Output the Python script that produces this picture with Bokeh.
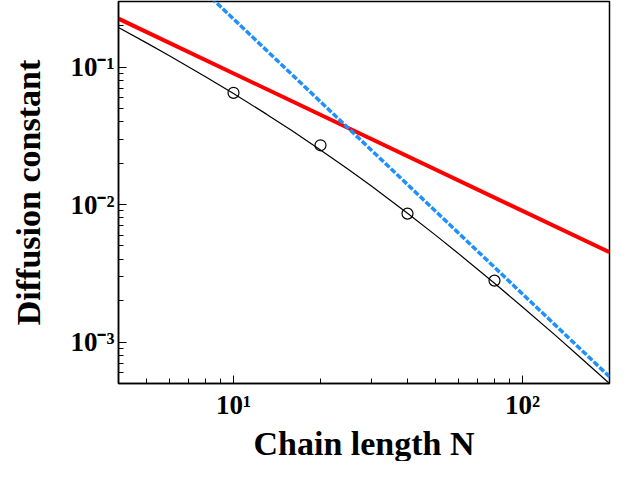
from bokeh.plotting import figure
from bokeh.models import FixedTicker, CustomJSTickFormatter, Title
from bokeh.embed import file_html
from bokeh.resources import INLINE

# Rouse-like line (red), reptation-like line (blue), crossover curve (black), data points
red_n = [4, 200]
red_d = [0.225, 0.0045]
blue_n = [4, 200]
blue_d = [1.40, 5.6e-4]
curve_n = [4, 5, 6, 8, 10, 13, 16, 20, 25, 30, 40, 50, 60, 80, 100, 130, 160, 200]
curve_d = [0.194, 0.150, 0.121, 0.0852, 0.0643, 0.0455, 0.0343, 0.0250, 0.0180,
           0.01364, 0.00866, 0.0060, 0.00441, 0.00268, 0.0018, 0.00112, 0.00076, 0.0005]
pts_n = [10, 20, 40, 80]
pts_d = [0.065, 0.027, 0.0086, 0.0028]

# ticks
x_major = [10, 100]
x_minor = [4, 5, 6, 7, 8, 9, 20, 30, 40, 50, 60, 70, 80, 90, 200]
y_major = [0.001, 0.01, 0.1]
y_minor = [0.0005, 0.0006, 0.0007, 0.0008, 0.0009,
           0.002, 0.003, 0.004, 0.005, 0.006, 0.007, 0.008, 0.009,
           0.02, 0.03, 0.04, 0.05, 0.06, 0.07, 0.08, 0.09, 0.2, 0.3]

X_TITLE = "Chain length N"
Y_TITLE = "Diffusion constant"
FONT = "Liberation Serif"

p = figure(width=617, height=461, x_axis_type="log", y_axis_type="log",
           x_range=(4, 200), y_range=(5e-4, 0.3),
           output_backend="svg", toolbar_location=None,
           min_border_left=118, min_border_right=8,
           min_border_top=1, min_border_bottom=0)

p.line(red_n, red_d, line_color="#FF0000", line_width=4)
p.line(blue_n, blue_d, line_color="#1E90FF", line_width=3.5, line_dash="6 2")
p.line(curve_n, curve_d, line_color="black", line_width=1.2)
p.scatter(pts_n, pts_d, marker="circle", size=11, fill_color=None,
          line_color="black", line_width=1.2)

p.grid.visible = False
p.outline_line_color = "black"
p.outline_line_width = 1.5
p.background_fill_color = "white"
p.border_fill_color = "white"

fmt = CustomJSTickFormatter(code="""
const e = Math.round(Math.log10(tick));
const sup = {'-':'\u207b','0':'\u2070','1':'\u00b9','2':'\u00b2','3':'\u00b3','4':'\u2074','5':'\u2075','6':'\u2076','7':'\u2077','8':'\u2078','9':'\u2079'};
return '10' + String(e).split('').map(c => sup[c]).join('');
""")

p.xaxis[0].ticker = FixedTicker(ticks=x_major, minor_ticks=x_minor)
p.yaxis[0].ticker = FixedTicker(ticks=y_major, minor_ticks=y_minor)

for ax in (p.xaxis[0], p.yaxis[0]):
    ax.formatter = fmt
    ax.axis_line_color = "black"
    ax.axis_line_width = 1.5
    ax.major_tick_in = 8
    ax.major_tick_out = 0
    ax.minor_tick_in = 5
    ax.minor_tick_out = 0
    ax.major_tick_line_color = "black"
    ax.minor_tick_line_color = "black"
    ax.major_label_text_font = FONT
    ax.major_label_text_font_style = "bold"
    ax.major_label_text_font_size = "27px"
    ax.major_label_text_color = "black"
    ax.axis_label_text_font = FONT
    ax.axis_label_text_font_style = "bold"
    ax.axis_label_text_font_size = "34px"
    ax.axis_label_text_color = "black"

p.yaxis.axis_label = Y_TITLE
p.xaxis.major_label_standoff = 6
p.yaxis.major_label_standoff = 4
p.yaxis.axis_label_standoff = 20

p.add_layout(Title(text=X_TITLE, align="center", text_font=FONT,
                   text_font_style="bold", text_font_size="34px",
                   text_color="black", standoff=0, offset=0), "below")

open("out.html", "w").write(file_html(p, INLINE))
